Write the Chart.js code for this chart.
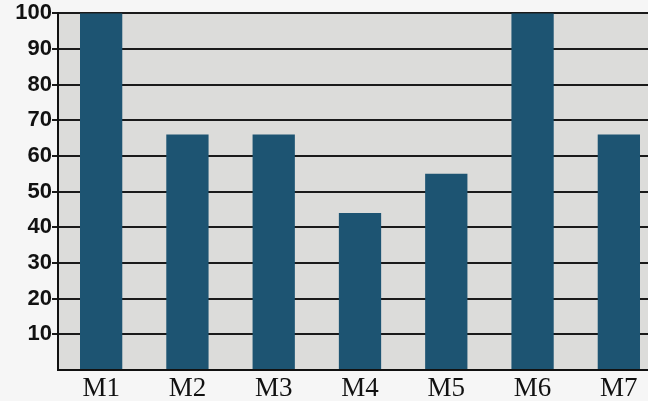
<!DOCTYPE html>
<html>
<head>
<meta charset="utf-8">
<script src="https://cdn.jsdelivr.net/npm/chart.js@4/dist/chart.umd.min.js"></script>
<style>
  html, body { margin: 0; padding: 0; background: #f6f6f6; overflow: hidden; }
  #wrap { width: 668px; height: 401px; }
</style>
</head>
<body>
<div id="wrap"><canvas id="barChart" width="668" height="401"></canvas></div>
<script>
const categories = ["M1", "M2", "M3", "M4", "M5", "M6", "M7"];
const values = [100, 66, 66, 44, 55, 100, 66];
const yTicks = [10, 20, 30, 40, 50, 60, 70, 80, 90, 100];

// grey plot background
const plotBg = {
  id: "plotBg",
  beforeDraw(chart) {
    const { ctx, chartArea } = chart;
    ctx.save();
    ctx.fillStyle = "#dcdcda";
    ctx.fillRect(chartArea.left, chartArea.top, chartArea.right - chartArea.left, chartArea.bottom - chartArea.top);
    ctx.restore();
  },
};

const ctx = document.getElementById("barChart").getContext("2d");
new Chart(ctx, {
  type: "bar",
  data: {
    labels: categories,
    datasets: [
      {
        data: values,
        backgroundColor: "#1d5472",
        categoryPercentage: 1,
        barPercentage: 0.49,
      },
    ],
  },
  options: {
    responsive: false,
    animation: false,
    layout: { padding: { top: 13, right: 6, left: 0, bottom: 0 } },
    plugins: { legend: { display: false }, tooltip: { enabled: false } },
    scales: {
      x: {
        grid: { display: false },
        border: { color: "#111", width: 2 },
        ticks: {
          color: "#111",
          font: { family: "Liberation Serif", size: 27, lineHeight: 1 },
          padding: -3,
        },
        afterFit(scale) { scale.height = 31; },
      },
      y: {
        min: 0,
        max: 100,
        afterBuildTicks(scale) {
          scale.ticks = [{ value: 0 }].concat(yTicks.map(v => ({ value: v })));
        },
        grid: {
          color: "#1a1a1a",
          lineWidth: 2,
          tickLength: 6,
          tickColor: (c) => (c.tick && c.tick.value === 0 ? "rgba(0,0,0,0)" : "#1a1a1a"),
        },
        border: { color: "#111", width: 2 },
        ticks: {
          color: "#111",
          font: { family: "Liberation Sans", size: 22, weight: "bold" },
          padding: 0,
          callback: (v) => (v === 0 ? "" : v),
        },
        afterFit(scale) { scale.width = 58; },
      },
    },
  },
  plugins: [plotBg],
});
</script>
</body>
</html>
